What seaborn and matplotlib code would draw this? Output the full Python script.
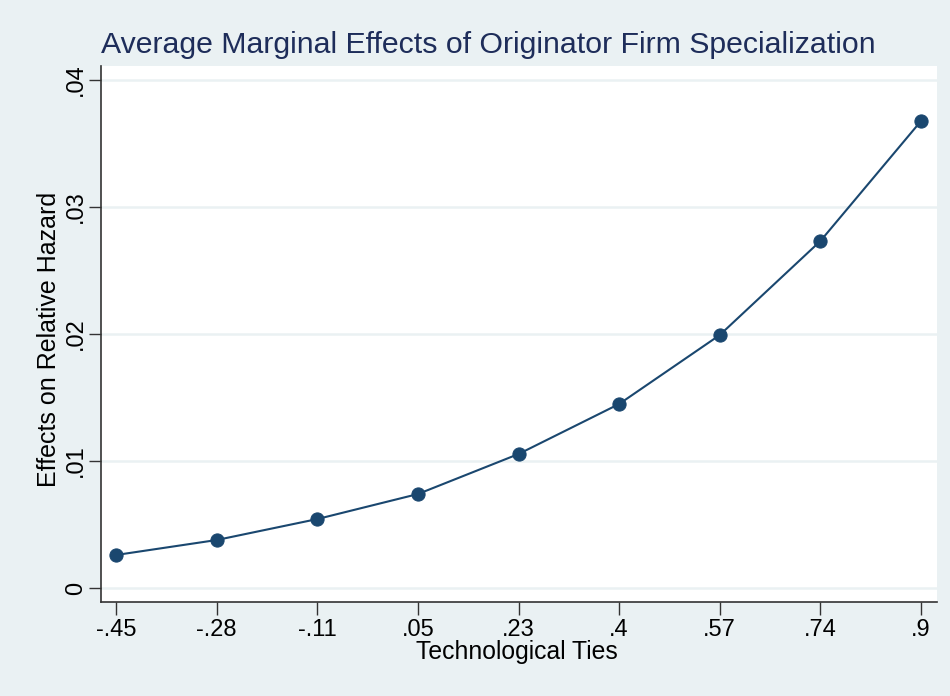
import matplotlib
matplotlib.use("Agg")
import matplotlib.pyplot as plt
import seaborn as sns
import numpy as np
import pandas as pd

# tick labels as printed, positions evenly spaced between -.45 and .9
tick_labels = ['-.45', '-.28', '-.11', '.05', '.23', '.4', '.57', '.74', '.9']
ties = np.linspace(-0.45, 0.9, len(tick_labels))
effects = [0.0026, 0.00378, 0.00543, 0.0074, 0.01055, 0.01449, 0.01992, 0.02732, 0.03677]
y_ticks = [0, 0.01, 0.02, 0.03, 0.04]
y_labels = ['0', '.01', '.02', '.03', '.04']

df = pd.DataFrame({'ties': ties, 'effect': effects})

bg = '#EAF1F3'
navy = '#1A476F'

plt.rcParams['font.family'] = ['Liberation Sans', 'DejaVu Sans']
fig = plt.figure(figsize=(9.5, 6.96), dpi=100, facecolor=bg)
ax = fig.add_axes([101 / 950, 1 - 602 / 696, (937 - 101) / 950, (602 - 66) / 696])
ax.set_facecolor('white')

for yt in y_ticks:
    ax.axhline(yt, color=bg, linewidth=1.8, zorder=0)

sns.lineplot(data=df, x='ties', y='effect', marker='o', markersize=9.5,
             color=navy, linewidth=1.5, markeredgecolor=navy, ax=ax)

ax.set_xlim(-0.4752, 0.9268)
ax.set_ylim(-0.0011, 0.0411)
ax.set_xticks(ties)
ax.set_xticklabels(tick_labels, fontsize=17)
ax.set_yticks(y_ticks)
ax.set_yticklabels(y_labels, fontsize=17, rotation=90, va='center')
ax.tick_params(axis='both', length=9, width=1, color='#333333', direction='out')
ax.tick_params(axis='x', pad=3)
ax.tick_params(axis='y', pad=1)

for side in ['top', 'right']:
    ax.spines[side].set_visible(False)
for side in ['left', 'bottom']:
    ax.spines[side].set_color('#333333')
    ax.spines[side].set_linewidth(1.2)

ax.set_xlabel('Technological Ties', fontsize=17.8)
ax.set_ylabel('Effects on Relative Hazard', fontsize=18)
ax.xaxis.set_label_coords(0.497, -0.07)
ax.yaxis.set_label_coords(-0.048, 0.49)

fig.text(101 / 950, 1 - 53 / 696, 'Average Marginal Effects of Originator Firm Specialization',
         fontsize=21.8, color='#1E2D5A', ha='left', va='baseline')

fig.savefig('out.png', dpi=100, facecolor=bg)
